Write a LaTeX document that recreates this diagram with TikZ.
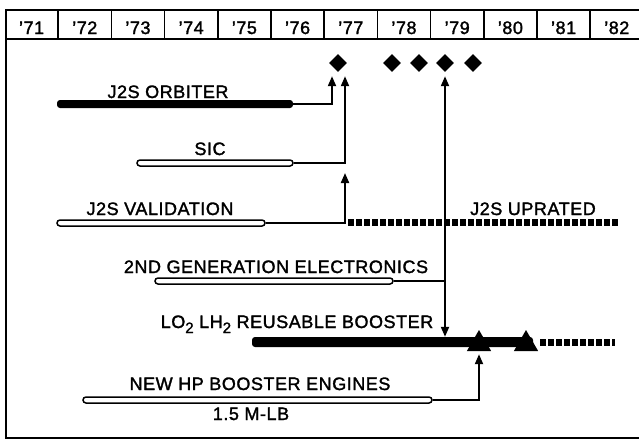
\documentclass[tikz,border=0pt]{standalone}
\usepackage{fontspec}
\setmainfont{Liberation Sans}[LetterSpace=3,FakeBold=1.6]
\usetikzlibrary{arrows.meta,positioning,shapes.geometric}
\tikzset{
    hollowbar/.style={
        draw,line width=1.5pt,fill=white,rounded corners=3pt,
        minimum height=6pt,inner sep=0pt
    },
    solidbar/.style={
        fill=black,rounded corners=3pt,minimum height=#1,inner sep=0pt
    },
    solidbar/.default=8pt,
    dotbar/.style={line width=7pt,dash pattern=on 6pt off 2pt},
    milestone/.style={diamond,fill=black,minimum size=18pt,inner sep=0pt},
    event/.style={
        regular polygon,regular polygon sides=3,fill=black,
        minimum size=28pt,inner sep=0pt
    },
    task/.style={font=\fontsize{18}{20}\selectfont,anchor=base,inner sep=0pt},
    link/.style={line width=2pt,-{Triangle[length=10pt,width=8pt]}},
    frame/.style={line width=2pt}
}
\newcommand{\lowtwo}{\raisebox{-5pt}{\fontsize{15}{15}\selectfont 2}}

\begin{document}
\begin{tikzpicture}[x=1pt,y=-1pt]
\useasboundingbox (0,0) rectangle (639,440);
\clip (0,0) rectangle (639,440);

% year strip
\draw[frame,fill=white] (6,10) rectangle (660,438);
\draw[frame] (6,39) -- (660,39);
\foreach \i in {1,...,11}
    \draw[line width=1.5pt] (5+53.2*\i,10) -- (5+53.2*\i,39);
\foreach \yr [count=\i from 0] in {71,...,82}
    \node[task] (y\yr) at (31.6+53.2*\i,34) {'\yr};

% milestones
\node[milestone] (m1) at (338,63) {};
\node[milestone] (m2) at (392,63) {};
\node[milestone] (m3) at (419,63) {};
\node[milestone] (m4) at (445,63) {};
\node[milestone] (m5) at (473,63) {};

% bars
\node[solidbar,minimum width=236pt] (orb) at (175,104) {};
\node[task] (orblbl) at (168,98) {J2S ORBITER};

\node[hollowbar,minimum width=156pt] (sic) at (215,163) {};
\node[task] (siclbl) at (210,155) {SIC};

\node[hollowbar,minimum width=208pt] (valid) at (161,223) {};
\node[task] (validlbl) at (160,215) {J2S VALIDATION};
\coordinate (vtip) at (345,173);
\coordinate (upr) at (348,222);
\draw[dotbar] (upr) -- ++(270,0);
\node[task] (uprlbl) at (533,215) {J2S UPRATED};

\node[hollowbar,minimum width=238pt] (elec) at (274,281) {};
\node[task] (eleclbl) at (276,273) {2ND GENERATION ELECTRONICS};

\node[solidbar=10pt,minimum width=281pt] (boost) at (392.5,342) {};
\node[task] (boostlbl) at (297,328) {LO\lowtwo{} LH\lowtwo{} REUSABLE BOOSTER};
\draw[dotbar] (boost.east) ++(7,0) -- ++(75,0);
\node[event] (ev1) at (479,344) {};
\node[event] (ev2) at (526,344) {};

\node[hollowbar,minimum width=349pt] (eng) at (257.5,400) {};
\node[task] (englbl) at (260,390) {NEW HP BOOSTER ENGINES};
\node[task] (thrust) at (251,420) {1.5 M-LB};

% connectors
\draw[link,shorten >=4pt] (orb.east) -| ([xshift=-6pt]m1.south);
\draw[link,shorten >=4pt] (sic.east) -| ([xshift=7pt]m1.south);
\draw[link] (valid.east) -| (vtip);
\draw[line width=2pt] (elec.east) -- (elec.east -| m4);
\draw[link,{Triangle[length=10pt,width=8pt]}-{Triangle[length=10pt,width=8pt]},
    shorten <=4pt] (m4.south) -- (m4 |- boost.north);
\draw[link,shorten >=3pt] (eng.east) -| (ev1.south);

\end{tikzpicture}
\end{document}
